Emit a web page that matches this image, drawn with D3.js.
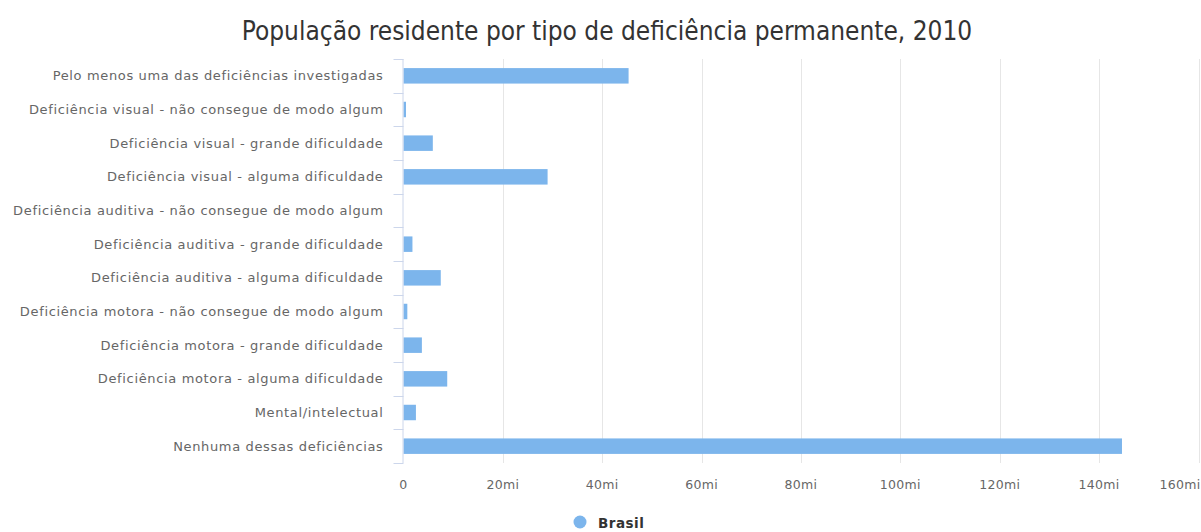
<!DOCTYPE html>
<html>
<head>
<meta charset="utf-8">
<script src="https://cdn.jsdelivr.net/npm/d3@7"></script>
<style>
  body { margin: 0; background: #fff; }
  svg { display: block; font-family: "DejaVu Sans", sans-serif; }
</style>
</head>
<body>
<script>
// data (milhões de pessoas)
var categories = [
  "Pelo menos uma das deficiências investigadas",
  "Deficiência visual - não consegue de modo algum",
  "Deficiência visual - grande dificuldade",
  "Deficiência visual - alguma dificuldade",
  "Deficiência auditiva - não consegue de modo algum",
  "Deficiência auditiva - grande dificuldade",
  "Deficiência auditiva - alguma dificuldade",
  "Deficiência motora - não consegue de modo algum",
  "Deficiência motora - grande dificuldade",
  "Deficiência motora - alguma dificuldade",
  "Mental/intelectual",
  "Nenhuma dessas deficiências"
];
var brasil = [45.3, 0.5, 5.9, 29.0, 0, 1.8, 7.5, 0.77, 3.7, 8.8, 2.5, 144.6];
var xTicks = [0, 20, 40, 60, 80, 100, 120, 140, 160];
var seriesName = "Brasil";
var title = "População residente por tipo de deficiência permanente, 2010";

var width = 1201, height = 532;
var margin = { top: 59, right: 2, bottom: 69, left: 403.5 };

var svg = d3.select("body").append("svg")
    .attr("width", width)
    .attr("height", height);

svg.append("text")
    .attr("x", 607)
    .attr("y", 40)
    .attr("text-anchor", "middle")
    .style("font-family", "'DejaVu Sans Condensed', 'DejaVu Sans', sans-serif")
    .style("font-size", "26px")
    .style("fill", "#333")
    .text(title);

var x = d3.scaleLinear()
    .domain([0, 160])
    .range([margin.left, width - margin.right - 0.5]);

var plotBottom = height - margin.bottom;

var y = d3.scaleBand()
    .domain(categories)
    .range([margin.top, plotBottom])
    .paddingInner(0.54)
    .paddingOuter(0.27);

// vertical grid
svg.append("g")
  .selectAll("line")
  .data(xTicks.slice(1))
  .enter().append("line")
    .attr("x1", function(d) { return Math.round(x(d)) + 0.5; })
    .attr("x2", function(d) { return Math.round(x(d)) + 0.5; })
    .attr("y1", margin.top)
    .attr("y2", plotBottom)
    .attr("stroke", "#e6e6e6");

// bars
svg.append("g")
  .selectAll("rect")
  .data(brasil)
  .enter().append("rect")
    .attr("x", x(0))
    .attr("y", function(d, i) { return y(categories[i]); })
    .attr("width", function(d) { return x(d) - x(0); })
    .attr("height", y.bandwidth())
    .attr("fill", "#7cb5ec");

// y axis: line, ticks at category boundaries, labels
var yAxis = svg.append("g");
var bounds = d3.range(categories.length + 1).map(function(i) { return margin.top + i * (plotBottom - margin.top) / categories.length; });

yAxis.append("line")
    .attr("x1", x(0) - 0.5).attr("x2", x(0) - 0.5)
    .attr("y1", margin.top).attr("y2", plotBottom)
    .attr("stroke", "#ccd6eb");

yAxis.selectAll(".tick")
  .data(bounds)
  .enter().append("line")
    .attr("x1", x(0) - 10).attr("x2", x(0))
    .attr("y1", function(d) { return Math.round(d) + 0.5; })
    .attr("y2", function(d) { return Math.round(d) + 0.5; })
    .attr("stroke", "#ccd6eb");

yAxis.selectAll("text")
  .data(categories)
  .enter().append("text")
    .attr("x", x(0) - 20)
    .attr("y", function(d) { return y(d) + y.bandwidth() / 2; })
    .attr("dy", "0.35em")
    .attr("text-anchor", "end")
    .style("font-size", "13px")
    .style("letter-spacing", "0.65px")
    .style("fill", "#666")
    .text(function(d) { return d; });

// x axis labels
svg.append("g")
  .selectAll("text")
  .data(xTicks)
  .enter().append("text")
    .attr("x", function(d) { return x(d); })
    .attr("y", 489)
    .attr("text-anchor", function(d) { return d === 160 ? "end" : "middle"; })
    .attr("dx", function(d) { return d === 160 ? 2 : 0; })
    .style("font-size", "12.5px")
    .style("letter-spacing", "0.3px")
    .style("fill", "#666")
    .text(function(d) { return d === 0 ? "0" : d + "mi"; });

// legend
var legend = svg.append("g");
legend.append("circle")
    .attr("cx", 580)
    .attr("cy", 522)
    .attr("r", 6.5)
    .attr("fill", "#7cb5ec");
legend.append("text")
    .attr("x", 598)
    .attr("y", 527.5)
    .style("font-size", "13.5px")
    .style("font-weight", "bold")
    .style("letter-spacing", "0.5px")
    .style("fill", "#333")
    .text(seriesName);
</script>
</body>
</html>
